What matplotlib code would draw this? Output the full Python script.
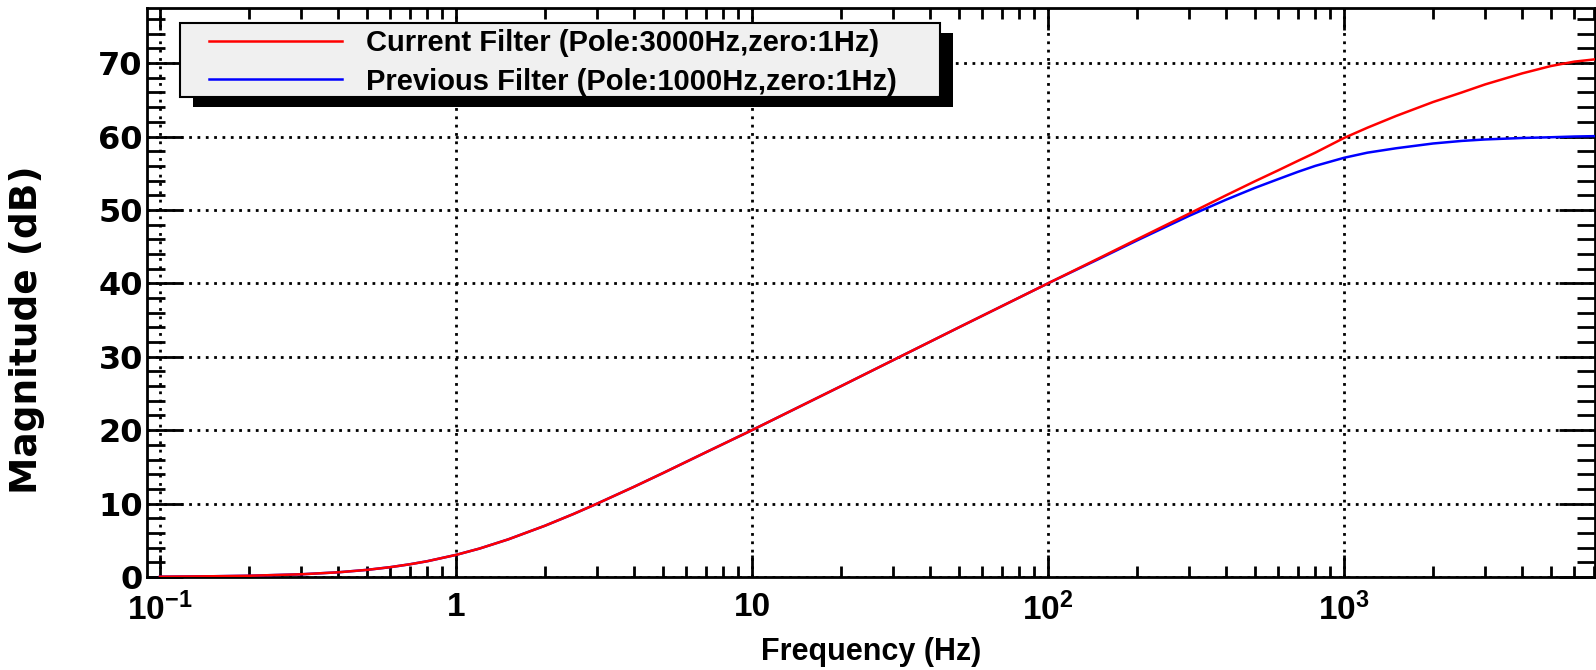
import numpy as np
import matplotlib
matplotlib.use("Agg")
import matplotlib.pyplot as plt
from matplotlib.patches import Rectangle
from matplotlib.ticker import FixedLocator, NullFormatter

plt.rcParams['font.family'] = ['Liberation Sans', 'DejaVu Sans']
plt.rcParams['font.weight'] = 'bold'
plt.rcParams['mathtext.fontset'] = 'custom'
plt.rcParams['mathtext.rm'] = 'Liberation Sans:bold'
plt.rcParams['mathtext.it'] = 'Liberation Sans:bold'
plt.rcParams['mathtext.bf'] = 'Liberation Sans:bold'

# values
freq_low = [0.1, 0.15, 0.2, 0.3, 0.4, 0.5, 0.6, 0.7, 0.8, 1.0, 1.2, 1.5, 2.0, 2.5,
            3.0, 4.0, 5.0, 7.0, 10.0, 20.0, 50.0, 100.0]
mag_low = [0.04, 0.10, 0.17, 0.37, 0.64, 0.97, 1.34, 1.74, 2.15, 3.01, 3.87, 5.12,
           6.99, 8.60, 10.0, 12.3, 14.15, 17.0, 20.0, 26.0, 34.0, 40.0]

freq_high = [150, 200, 300, 400, 500, 600, 700, 800, 1000, 1200, 1500, 2000, 2500,
             3000, 4000, 5000, 6000, 7000]
mag_current = [43.5, 46.0, 49.5, 52.0, 53.9, 55.4, 56.7, 57.8, 59.8, 61.2, 62.8,
               64.7, 66.0, 67.1, 68.6, 69.6, 70.2, 70.5]
mag_previous = [43.4, 45.85, 49.2, 51.4, 53.0, 54.2, 55.2, 56.0, 57.1, 57.8, 58.4,
                59.05, 59.4, 59.6, 59.8, 59.9, 60.0, 60.05]

label_current = "Current Filter (Pole:3000Hz,zero:1Hz)"
label_previous = "Previous Filter (Pole:1000Hz,zero:1Hz)"

x_major = [0.1, 1, 10, 100, 1000]
x_major_labels = [r'$10^{-1}$', '1', '10', r'$10^{2}$', r'$10^{3}$']
y_major = [0, 10, 20, 30, 40, 50, 60, 70]

f_all = freq_low + freq_high
m_cur = mag_low + mag_current
m_prev = mag_low + mag_previous

W, H = 1596.0, 670.0
fig = plt.figure(figsize=(15.96, 6.70), dpi=100)
ax = fig.add_axes([0.0921, 0.1388, 0.9073, 0.8492])

ax.plot(f_all, m_prev, color='#0000ff', lw=1.8, label=label_previous, zorder=3)
ax.plot(f_all, m_cur, color='#ff0000', lw=1.8, label=label_current, zorder=4)

ax.set_xscale('log')
ax.set_xlim(0.0904, 7050)
ax.set_ylim(0, 77.5)

ax.xaxis.set_major_locator(FixedLocator(x_major))
ax.set_xticklabels(x_major_labels)
minors = [m * 10.0**e for e in range(-2, 4) for m in range(2, 10)]
ax.xaxis.set_minor_locator(FixedLocator(minors))
ax.xaxis.set_minor_formatter(NullFormatter())
ax.set_yticks(y_major)
ax.set_yticks(np.arange(0, 78, 2), minor=True)

ax.tick_params(which='both', direction='in', top=True, right=True, width=2,
               colors='black')
ax.tick_params(axis='x', labelsize=24)
ax.tick_params(axis='y', labelsize=23)
ax.tick_params(axis='y', which='major', length=26, pad=3)
ax.tick_params(axis='y', which='minor', length=13)
ax.tick_params(axis='x', which='major', length=16, pad=11)
ax.tick_params(axis='x', which='minor', length=8)
for t in ax.get_yticklabels():
    t.set_family(['DejaVu Sans'])

ax.grid(True, which='major', color='black', linestyle=(0, (1, 2)), lw=2)

for s in ax.spines.values():
    s.set_linewidth(2)

ax.set_xlabel("Frequency (Hz)", fontsize=22, fontweight='bold', labelpad=7)
ax.set_ylabel("Magnitude (dB)", fontsize=27, fontweight='bold',
              family=['DejaVu Sans'])
ax.yaxis.set_label_coords((45 - 147) / 1448.0, (577 - 330) / 569.0)

# legend box with a solid drop shadow, like the original
bx0, bx1, by0, by1 = 180 / W, 940 / W, 1 - 97 / H, 1 - 23 / H
dx, dy = 13 / W, 10 / H
ax.add_patch(Rectangle((bx0 + dx, by0 - dy), bx1 - bx0, by1 - by0,
                       transform=fig.transFigure, facecolor='black',
                       edgecolor='none', zorder=6, clip_on=False))
ax.add_patch(Rectangle((bx0, by0), bx1 - bx0, by1 - by0,
                       transform=fig.transFigure, facecolor='#f0f0f0',
                       edgecolor='black', lw=1.5, zorder=7, clip_on=False))

handles, labels = ax.get_legend_handles_labels()
leg = ax.legend(handles[::-1], labels[::-1], loc='upper left',
                bbox_to_anchor=(209 / W, 1 - 29 / H),
                bbox_transform=fig.transFigure, fontsize=21, frameon=False,
                handlelength=4.57, handletextpad=0.8, borderpad=0,
                labelspacing=0.36, borderaxespad=0)
leg.set_zorder(8)

fig.savefig("out.png", dpi=100)
